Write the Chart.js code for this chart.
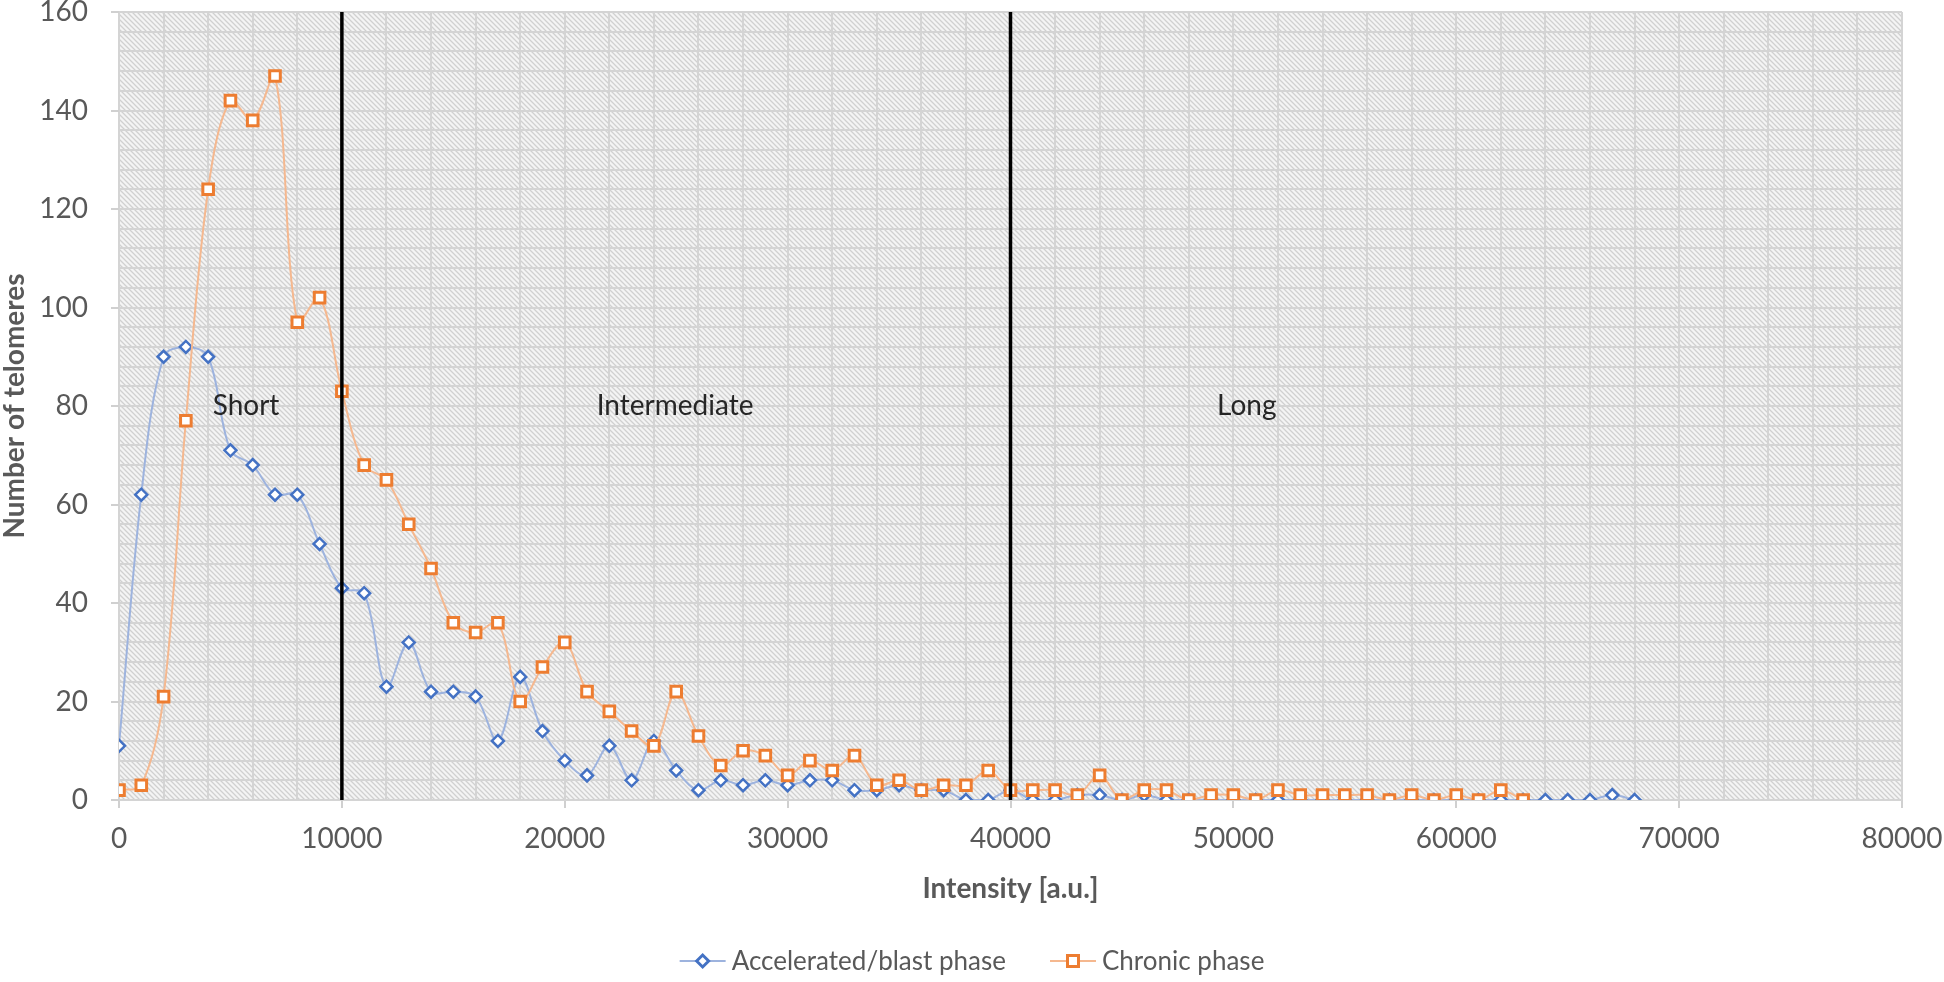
<!DOCTYPE html>
<html>
<head>
<meta charset="utf-8">
<script src="https://cdn.jsdelivr.net/npm/chart.js@4.4.1/dist/chart.umd.min.js"></script>
<style>
  html, body { margin: 0; padding: 0; background: #ffffff; }
  #wrap { position: relative; width: 1944px; height: 982px; }
</style>
</head>
<body>
<div id="wrap"><canvas id="telomereChart"></canvas></div>
<script>
// Intensity bins [a.u.]
var intensityBlast = [0, 1000, 2000, 3000, 4000, 5000, 6000, 7000, 8000, 9000,
    10000, 11000, 12000, 13000, 14000, 15000, 16000, 17000, 18000, 19000,
    20000, 21000, 22000, 23000, 24000, 25000, 26000, 27000, 28000, 29000,
    30000, 31000, 32000, 33000, 34000, 35000, 36000, 37000, 38000, 39000,
    40000, 41000, 42000, 43000, 44000, 45000, 46000, 47000, 48000, 49000,
    50000, 51000, 52000, 53000, 54000, 55000, 56000, 57000, 58000, 59000,
    60000, 61000, 62000, 63000, 64000, 65000, 66000, 67000, 68000];
var countBlast = [11, 62, 90, 92, 90, 71, 68, 62, 62, 52,
    43, 42, 23, 32, 22, 22, 21, 12, 25, 14,
    8, 5, 11, 4, 12, 6, 2, 4, 3, 4,
    3, 4, 4, 2, 2, 3, 2, 2, 0, 0,
    2, 0, 0, 1, 1, 0, 1, 0, 0, 0,
    0, 0, 0, 0, 0, 0, 0, 0, 0, 0,
    0, 0, 0, 0, 0, 0, 0, 1, 0];

var intensityChronic = [0, 1000, 2000, 3000, 4000, 5000, 6000, 7000, 8000, 9000,
    10000, 11000, 12000, 13000, 14000, 15000, 16000, 17000, 18000, 19000,
    20000, 21000, 22000, 23000, 24000, 25000, 26000, 27000, 28000, 29000,
    30000, 31000, 32000, 33000, 34000, 35000, 36000, 37000, 38000, 39000,
    40000, 41000, 42000, 43000, 44000, 45000, 46000, 47000, 48000, 49000,
    50000, 51000, 52000, 53000, 54000, 55000, 56000, 57000, 58000, 59000,
    60000, 61000, 62000, 63000];
var countChronic = [2, 3, 21, 77, 124, 142, 138, 147, 97, 102,
    83, 68, 65, 56, 47, 36, 34, 36, 20, 27,
    32, 22, 18, 14, 11, 22, 13, 7, 10, 9,
    5, 8, 6, 9, 3, 4, 2, 3, 3, 6,
    2, 2, 2, 1, 5, 0, 2, 2, 0, 1,
    1, 0, 2, 1, 1, 1, 1, 0, 1, 0,
    1, 0, 2, 0];

// Cut-offs between length classes and the class labels
var cutoffs = [10000, 40000];
var zoneNames = ['Short', 'Intermediate', 'Long'];
var zoneX = [5700, 24950, 50600];
var zoneY = [80, 80, 80];

var seriesNames = ['Accelerated/blast phase', 'Chronic phase'];

var FONT = 'Lato, "Open Sans", sans-serif';

function toPoints(xs, ys) {
    var pts = [];
    for (var i = 0; i < xs.length; i++) pts.push({ x: xs[i], y: ys[i] });
    return pts;
}

// diagonal hatch fill used behind the plot
function makeHatch(ctx) {
    var s = 5;
    var c = document.createElement('canvas');
    c.width = s; c.height = s;
    var p = c.getContext('2d');
    p.fillStyle = '#f4f4f4';
    p.fillRect(0, 0, s, s);
    p.strokeStyle = '#d0d0d0';
    p.lineWidth = 1.3;
    p.beginPath();
    p.moveTo(-s, -s); p.lineTo(2 * s, 2 * s);
    p.moveTo(-s, 0); p.lineTo(s, 2 * s);
    p.moveTo(0, -s); p.lineTo(2 * s, s);
    p.stroke();
    return ctx.createPattern(c, 'repeat');
}

var hatchPlugin = {
    id: 'hatchBackground',
    beforeDraw: function (chart) {
        var a = chart.chartArea, ctx = chart.ctx;
        ctx.save();
        ctx.fillStyle = makeHatch(ctx);
        ctx.fillRect(a.left, a.top, a.right - a.left, a.bottom - a.top);
        ctx.restore();
    }
};

var zoneLabelPlugin = {
    id: 'zoneLabels',
    afterDatasetsDraw: function (chart) {
        var ctx = chart.ctx, x = chart.scales.x, y = chart.scales.y;
        ctx.save();
        ctx.font = '28px ' + FONT;
        ctx.fillStyle = '#262626';
        ctx.textAlign = 'center';
        ctx.textBaseline = 'middle';
        for (var i = 0; i < zoneNames.length; i++) {
            ctx.fillText(zoneNames[i], x.getPixelForValue(zoneX[i]), y.getPixelForValue(zoneY[i]));
        }
        ctx.restore();
    }
};

// Excel-like legend: short line with the marker in the middle
var legendPlugin = {
    id: 'excelLegend',
    afterDraw: function (chart) {
        var ctx = chart.ctx;
        var cy = 961, sample = 46, gap = 6, itemGap = 44;
        ctx.save();
        ctx.font = '26px ' + FONT;
        ctx.textBaseline = 'middle';
        var widths = seriesNames.map(function (n) { return ctx.measureText(n).width; });
        var total = 0;
        widths.forEach(function (w) { total += sample + gap + w; });
        total += itemGap * (seriesNames.length - 1);
        var xPos = chart.width / 2 - total / 2;
        var styles = [
            { line: '#9db3de', mark: '#4472c4', shape: 'diamond' },
            { line: '#f5b88f', mark: '#ed7d31', shape: 'square' }
        ];
        for (var i = 0; i < seriesNames.length; i++) {
            var st = styles[i];
            ctx.strokeStyle = st.line;
            ctx.lineWidth = 2;
            ctx.beginPath();
            ctx.moveTo(xPos, cy);
            ctx.lineTo(xPos + sample, cy);
            ctx.stroke();
            var mx = xPos + sample / 2;
            ctx.fillStyle = '#ffffff';
            ctx.strokeStyle = st.mark;
            ctx.lineWidth = 3;
            ctx.beginPath();
            if (st.shape === 'diamond') {
                ctx.moveTo(mx - 6, cy); ctx.lineTo(mx, cy - 6);
                ctx.lineTo(mx + 6, cy); ctx.lineTo(mx, cy + 6);
                ctx.closePath();
            } else {
                ctx.rect(mx - 5.5, cy - 5.5, 11, 11);
            }
            ctx.fill();
            ctx.stroke();
            ctx.fillStyle = '#595959';
            ctx.textAlign = 'left';
            ctx.fillText(seriesNames[i], xPos + sample + gap, cy + 1);
            xPos += sample + gap + widths[i] + itemGap;
        }
        ctx.restore();
    }
};

document.addEventListener('DOMContentLoaded', function () {
    var ctx = document.getElementById('telomereChart').getContext('2d');

    var datasets = [
        {
            label: seriesNames[1],
            data: toPoints(intensityChronic, countChronic),
            borderColor: '#f5b88f',
            borderWidth: 2,
            pointStyle: 'rect',
            pointRadius: 7.5,
            pointBorderWidth: 3,
            pointBorderColor: '#ed7d31',
            pointBackgroundColor: '#ffffff',
            tension: 0.35,
            order: 1
        },
        {
            label: seriesNames[0],
            data: toPoints(intensityBlast, countBlast),
            borderColor: '#9db3de',
            borderWidth: 2,
            pointStyle: 'rectRot',
            pointRadius: 6,
            pointBorderWidth: 2.5,
            pointBorderColor: '#4472c4',
            pointBackgroundColor: '#ffffff',
            tension: 0.35,
            order: 2
        }
    ];

    // vertical class boundaries
    cutoffs.forEach(function (c) {
        datasets.push({
            label: 'cutoff',
            data: [{ x: c, y: 0 }, { x: c, y: 160 }],
            borderColor: '#000000',
            borderWidth: 3.5,
            pointRadius: 0,
            order: 0
        });
    });

    var telomereChart = new Chart(ctx, {
        type: 'line',
        data: { datasets: datasets },
        options: {
            responsive: true,
            maintainAspectRatio: false,
            animation: false,
            layout: { padding: { top: 12, right: 42, bottom: 0, left: 0 } },
            plugins: {
                legend: { display: false },
                tooltip: { enabled: false }
            },
            scales: {
                x: {
                    type: 'linear',
                    min: 0,
                    max: 80000,
                    afterFit: function (s) {
                        s.height = 182;
                        s.paddingLeft = 0;
                        s.paddingRight = 0;
                    },
                    border: { display: false },
                    grid: {
                        color: '#d4d4d4',
                        lineWidth: 2,
                        tickLength: 8,
                        tickColor: function (c) { return c.tick.value % 10000 === 0 ? '#d0d0d0' : 'rgba(0,0,0,0)'; }
                    },
                    ticks: {
                        stepSize: 2000,
                        autoSkip: false,
                        maxRotation: 0,
                        padding: 14,
                        color: '#595959',
                        font: { family: FONT, size: 28 },
                        callback: function (v) { return v % 10000 === 0 ? String(v) : ''; }
                    },
                    title: {
                        display: true,
                        text: 'Intensity [a.u.]',
                        color: '#595959',
                        font: { family: FONT, size: 28, weight: 'bold', lineHeight: 1.2 },
                        padding: { top: 0, bottom: 76 }
                    }
                },
                y: {
                    min: 0,
                    max: 160,
                    afterFit: function (s) {
                        s.width = 119;
                        s.paddingTop = 0;
                        s.paddingBottom = 0;
                    },
                    border: { display: false },
                    grid: {
                        color: '#d4d4d4',
                        lineWidth: 2,
                        tickLength: 8,
                        tickColor: function (c) { return c.tick.value % 20 === 0 ? '#d0d0d0' : 'rgba(0,0,0,0)'; }
                    },
                    ticks: {
                        stepSize: 4,
                        autoSkip: false,
                        padding: 23,
                        color: '#595959',
                        font: { family: FONT, size: 28 },
                        callback: function (v) { return v % 20 === 0 ? String(v) : ''; }
                    },
                    title: {
                        display: true,
                        text: 'Number of telomeres',
                        color: '#595959',
                        font: { family: FONT, size: 28, weight: 'bold', lineHeight: 1.0 },
                        padding: { top: 1, bottom: 0 }
                    }
                }
            }
        },
        plugins: [hatchPlugin, zoneLabelPlugin, legendPlugin]
    });
});
</script>
</body>
</html>
